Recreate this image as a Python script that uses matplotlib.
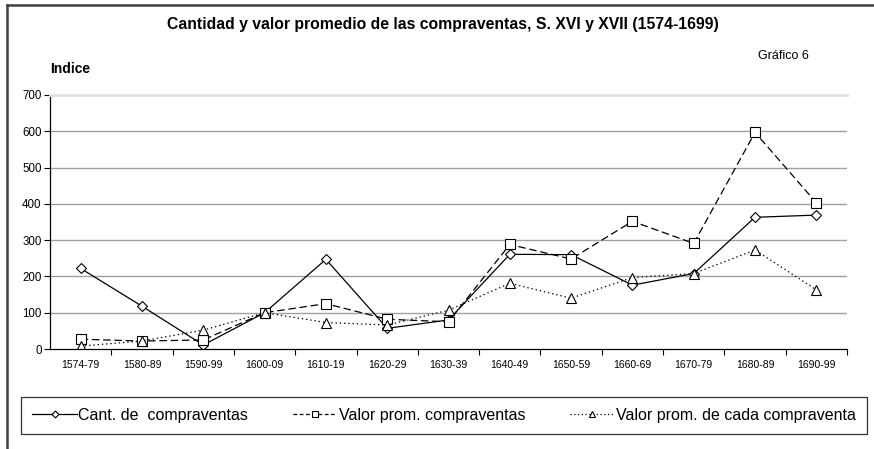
#!/usr/bin/env python3
"""Gráfico 6: cantidad y valor promedio de las compraventas (1574-1699)."""

import matplotlib

matplotlib.use("Agg")
import matplotlib.pyplot as plt
from matplotlib.lines import Line2D
import numpy as np

plt.rcParams["font.family"] = ["Liberation Sans", "DejaVu Sans"]

PERIODS = [
    "1574-79", "1580-89", "1590-99", "1600-09", "1610-19", "1620-29",
    "1630-39", "1640-49", "1650-59", "1660-69", "1670-79", "1680-89",
    "1690-99",
]
CANTIDAD = [222, 118, 11, 100, 247, 57, 80, 261, 260, 176, 208, 363, 369]
VALOR_TOTAL = [27, 22, 25, 100, 125, 82, 75, 288, 248, 352, 291, 597, 403]
VALOR_UNIDAD = [8, 22, 52, 100, 73, 66, 107, 181, 140, 197, 208, 273, 163]

LABELS = [
    "Cant. de  compraventas",
    "Valor prom. compraventas",
    "Valor prom. de cada compraventa",
]
Y_TICKS = [0, 100, 200, 300, 400, 500, 600, 700]

W, H = 874, 449


def main() -> None:
    fig = plt.figure(figsize=(W / 100, H / 100), dpi=100)
    ax = fig.add_axes([50 / W, 1 - 349 / H, 797 / W, 254 / H])

    x = np.arange(len(PERIODS))
    marker_kw = dict(markerfacecolor="white", markeredgecolor="black",
                     markeredgewidth=0.8, color="black", linewidth=0.9)
    ax.plot(x, CANTIDAD, linestyle="-", marker="D", markersize=5.5, **marker_kw)
    ax.plot(x, VALOR_TOTAL, linestyle=(0, (6, 3)), marker="s", markersize=7,
            **marker_kw)
    ax.plot(x, VALOR_UNIDAD, linestyle=(0, (1.1, 2.3)), marker="^",
            markersize=7.5, **marker_kw)

    ax.set_xlim(-0.5, len(PERIODS) - 0.5)
    ax.set_ylim(0, 700)
    ax.set_xticks(x)
    ax.set_xticklabels(PERIODS, fontsize=7.5)
    ax.set_xticks(np.arange(0.5, len(PERIODS), 1.0), minor=True)
    ax.tick_params(axis="x", which="major", length=0, pad=8)
    ax.tick_params(axis="x", which="minor", length=4, width=0.8, direction="out")
    ax.set_yticks(Y_TICKS)
    ax.tick_params(axis="y", labelsize=8.3, length=4, width=0.8, pad=2)

    for value in Y_TICKS[1:-1]:
        ax.axhline(value, color="#a0a0a0", linewidth=1.0, zorder=0)
    ax.spines["right"].set_visible(False)
    ax.spines["top"].set_color("#e0e0e0")
    ax.spines["top"].set_linewidth(2.0)
    ax.spines["left"].set_linewidth(0.9)
    ax.spines["bottom"].set_linewidth(0.9)

    fig.text(443 / W, 1 - 24 / H,
             "Cantidad y valor promedio de las compraventas, S. XVI y XVII (1574-1699)",
             ha="center", va="center", fontsize=11.3, fontweight="bold")
    fig.text(758 / W, 1 - 56 / H, "Gráfico 6", ha="left", va="center",
             fontsize=9)
    fig.text(50 / W, 1 - 69 / H, "Indice", ha="left", va="center",
             fontsize=10, fontweight="bold")

    handles = [
        Line2D([], [], linestyle="-", marker="D", markersize=3.5, **marker_kw),
        Line2D([], [], linestyle=(0, (3, 2)), marker="s", markersize=4.5,
               **marker_kw),
        Line2D([], [], linestyle=(0, (1, 2)), marker="^", markersize=4.5,
               **marker_kw),
    ]
    legend = fig.legend(
        handles, LABELS,
        loc="center",
        bbox_to_anchor=(21 / W, 1 - 438 / H, 846 / W, 45 / H),
        mode="expand",
        ncol=3,
        fontsize=11.5,
        frameon=True,
        fancybox=False,
        handlelength=2.8,
        handletextpad=0.1,
        borderpad=0.7,
        borderaxespad=0.0,
    )
    frame = legend.get_frame()
    frame.set_edgecolor("black")
    frame.set_linewidth(0.9)

    # outer chart frame, only its top and left edges fall inside the picture
    fig.add_artist(Line2D([7 / W, 7 / W], [0, 1 - 5 / H], color="#404040",
                          linewidth=1.8, transform=fig.transFigure))
    fig.add_artist(Line2D([7 / W, 1], [1 - 5 / H, 1 - 5 / H], color="#404040",
                          linewidth=1.8, transform=fig.transFigure))

    fig.savefig("out.png", dpi=100)


if __name__ == "__main__":
    main()
